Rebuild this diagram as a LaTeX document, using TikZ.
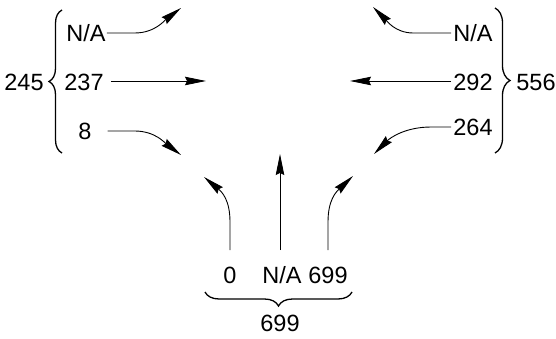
\documentclass[tikz,border=0pt]{standalone}
\usepackage{fontspec}
\setmainfont{Liberation Sans}
\usetikzlibrary{arrows.meta,decorations.pathreplacing}
\begin{document}
\begin{tikzpicture}[x=1pt,y=-1pt,
  lbl/.style={inner sep=0pt,font=\fontsize{23.5}{26}\selectfont},
  arr/.style={line width=0.9pt,-{Stealth[length=21pt,width=8.5pt,inset=2pt]}},
  brc/.style={line width=1.3pt,decorate,decoration={brace,amplitude=#1}}]
\useasboundingbox (0,0) rectangle (556,339);
% left group
\node[lbl] (lna) at (86,33) {N/A};
\node[lbl] (l237) at (84,82) {237};
\node[lbl] (l8) at (85,131) {8};
\node[lbl] (l245) at (24,82) {245};
\coordinate (lt1) at (181,8);
\coordinate (lt2) at (206,81);
\coordinate (lt3) at (181,155);
\draw[arr] ([xshift=1pt]lna.east) -- ++(28,0) .. controls (155,33) and (165,20) .. (lt1);
\draw[arr] ([xshift=7pt]l237.east |- lt2) -- (lt2);
\draw[arr] ([xshift=16pt]l8.east) -- ++(27,0) .. controls (155,131) and (165,143) .. (lt3);
\draw[brc=13pt] (62,153) -- (62,10);
% right group
\node[lbl] (rna) at (473,33) {N/A};
\node[lbl] (r292) at (473,82) {292};
\node[lbl] (r264) at (473,127) {264};
\node[lbl] (r556) at (536,82) {556};
\coordinate (rt1) at (373,7);
\coordinate (rt2) at (350,81);
\coordinate (rt3) at (374,154);
\draw[arr] ([xshift=-2pt]rna.west) -- ++(-38,0) .. controls (395,33) and (386,20) .. (rt1);
\draw[arr] ([xshift=-2pt]r292.west |- rt2) -- (rt2);
\draw[arr] ([xshift=-2pt]r264.west) -- ++(-20,0) .. controls (405,127) and (390,138) .. (rt3);
\draw[brc=15pt] (495,8) -- (495,153);
% bottom group
\node[lbl] (b0) at (230,275) {0};
\node[lbl] (bna) at (282,275) {N/A};
\node[lbl] (b699) at (328,275) {699};
\node[lbl] (b699t) at (280,323) {699};
\coordinate (bt1) at (204,177);
\coordinate (bt2) at (280,154);
\coordinate (bt3) at (353,176);
\draw[arr] (230,250) -- (230,222) .. controls (230,200) and (222,192) .. (bt1);
\draw[arr] (bt2 |- 0,250) -- (bt2);
\draw[arr] (328,250) -- (328,222) .. controls (328,200) and (336,192) .. (bt3);
\draw[brc=14pt] (352,292) -- (205,292);
\end{tikzpicture}
\end{document}
